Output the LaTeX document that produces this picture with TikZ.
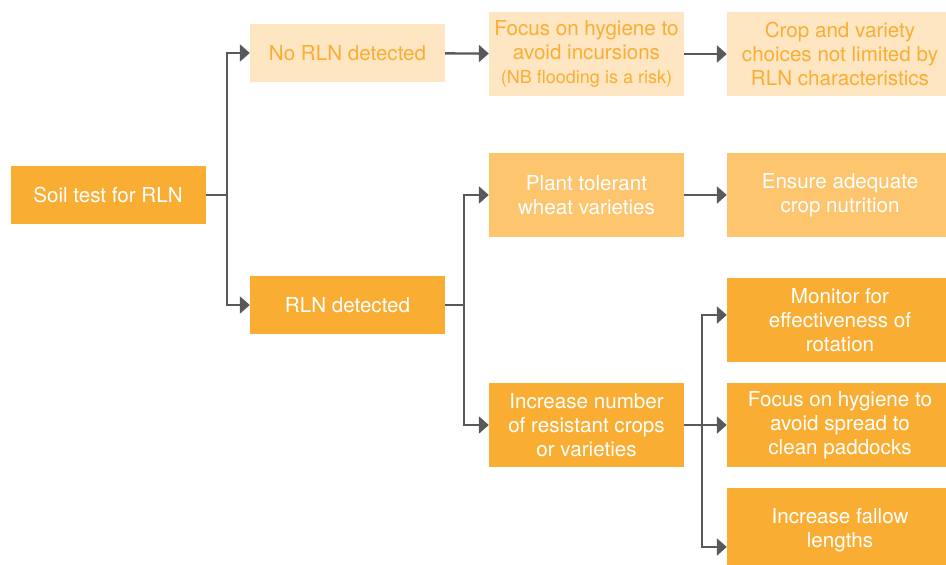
\documentclass[tikz,border=0pt]{standalone}
\usepackage{fontspec}
\setmainfont{TeX Gyre Heros}
\usetikzlibrary{arrows.meta}
\definecolor{rlnorange}{HTML}{F9AE33}
\definecolor{rlnmid}{HTML}{FCC56E}
\definecolor{rlnlight}{HTML}{FFE6C3}
\definecolor{rlngrey}{HTML}{58595B}

\tikzset{
  box/.style={rectangle, inner sep=0pt, align=center, minimum width=195pt,
    font=\fontsize{20.6}{24}\selectfont},
  strongbox/.style={box, fill=rlnorange, text=white},
  midbox/.style={box, fill=rlnmid, text=white},
  palebox/.style={box, fill=rlnlight, text=rlnorange},
  widebox/.style={minimum width=226pt},
  onerow/.style={minimum height=58pt},
  threerow/.style={minimum height=84pt},
  link/.style={draw=rlngrey, line width=2.4pt},
  arr/.style={link, -{Triangle[length=10pt,width=17pt]}}
}

\begin{document}
\begin{tikzpicture}[x=1pt,y=-1pt]
    \clip (0,0) rectangle (946,565);

    % Start
    \node[strongbox, onerow] (soil) at (108,195) {Soil test for RLN};

    % No RLN branch
    \node[palebox, onerow] (norln) at (347.5,53) {No RLN detected};
    \node[palebox, threerow] (hygiene) at (586.5,54)
        {Focus on hygiene to\\avoid incursions\\{\fontsize{18}{20}\selectfont (NB flooding is a risk)}};
    \node[palebox, threerow, widebox] (choice) at (840,54)
        {Crop and variety\\choices not limited by\\RLN characteristics};

    % RLN branch
    \node[strongbox, onerow] (rln) at (347.5,305) {RLN detected};
    \node[midbox, threerow] (tolerant) at (586.5,195) {Plant tolerant\\wheat varieties};
    \node[midbox, threerow, widebox] (nutrition) at (840,195) {Ensure adequate\\crop nutrition};
    \node[strongbox, threerow] (resistant) at (586.5,425)
        {Increase number\\of resistant crops\\or varieties};
    \node[strongbox, threerow, widebox] (monitor) at (840,320)
        {Monitor for\\effectiveness of\\rotation};
    \node[strongbox, threerow, widebox] (spread) at (840,425)
        {Focus on hygiene to\\avoid spread to\\clean paddocks};
    \node[strongbox, threerow, widebox] (fallow) at (840,530)
        {Increase fallow\\lengths};

    % Connectors
    \coordinate (fork1) at (227,195);
    \coordinate (fork2) at (464,305);
    \coordinate (fork3) at (702,425);

    \draw[link] (soil.east) -- (fork1);
    \draw[arr] (fork1) |- (norln.west);
    \draw[arr] (fork1) |- (rln.west);

    \draw[arr] (norln) -- (hygiene);
    \draw[arr] (hygiene) -- (choice);

    \draw[link] (rln.east) -- (fork2);
    \draw[arr] (fork2) |- (tolerant.west);
    \draw[arr] (fork2) |- (resistant.west);
    \draw[arr] (tolerant) -- (nutrition);

    \draw[link] (resistant.east) -- (fork3);
    \draw[arr] (fork3) |- ([yshift=5pt]monitor.west);
    \draw[arr] (fork3) -- (spread.west);
    \draw[arr] (fork3) |- ([yshift=-17pt]fallow.west);
\end{tikzpicture}
\end{document}
